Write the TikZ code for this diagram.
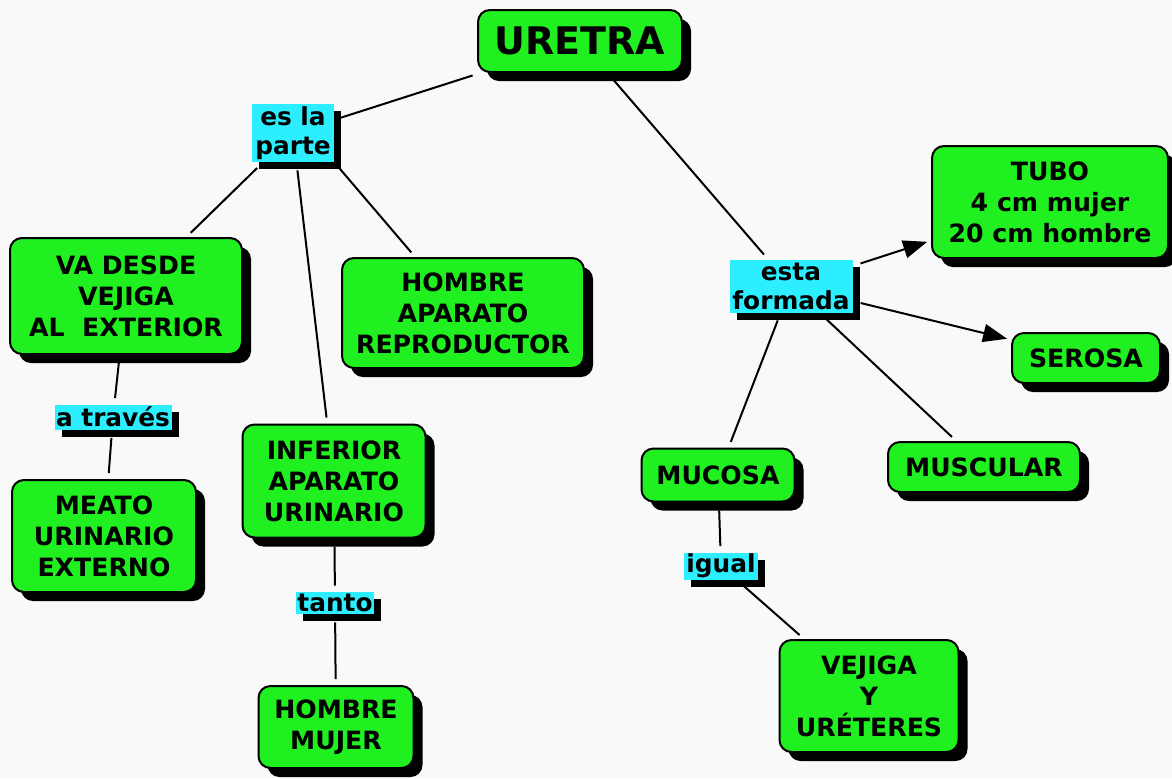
\documentclass[tikz,border=0pt]{standalone}
\usepackage{fontspec}
\setmainfont{DejaVu Sans}
\usetikzlibrary{arrows.meta,shadows}

\definecolor{conceptgreen}{RGB}{32,240,32}
\definecolor{linkcyan}{RGB}{44,238,255}
\definecolor{paper}{RGB}{249,249,249}

\tikzset{
  concept/.style={draw=black, line width=1pt, fill=conceptgreen, rounded corners=6pt,
    align=center, inner sep=1pt, font=\bfseries\fontsize{12.6}{15.5}\selectfont,
    drop shadow={shadow xshift=4.5pt, shadow yshift=-4.5pt, fill=black, opacity=1}},
  linkword/.style={fill=linkcyan, inner sep=0.5pt, align=center,
    font=\bfseries\fontsize{12.4}{14.5}\selectfont,
    drop shadow={shadow xshift=3.5pt, shadow yshift=-3.5pt, fill=black, opacity=1}},
  joint/.style={line width=1pt, shorten <=4pt, shorten >=3pt},
  pointer/.style={joint, -{Triangle[length=12pt,width=9pt]}, shorten >=2pt}
}

\begin{document}
\begin{tikzpicture}[x=0.5pt,y=-0.5pt]
\fill[paper] (0,0) rectangle (1172,778);
\useasboundingbox (0,0) rectangle (1172,778);

% concepts
\node[concept, minimum width=102pt, minimum height=31pt,
  font=\bfseries\fontsize{19}{22}\selectfont] (uretra) at (580,41) {URETRA};
\node[concept, minimum width=116pt, minimum height=58pt] (desde) at (126,296) {VA DESDE\\VEJIGA\\AL\ \ EXTERIOR};
\node[concept, minimum width=121pt, minimum height=55pt] (repro) at (463,313) {HOMBRE\\APARATO\\REPRODUCTOR};
\node[concept, minimum width=92pt, minimum height=56pt] (meato) at (104,536) {MEATO\\URINARIO\\EXTERNO};
\node[concept, minimum width=91.5pt, minimum height=56.5pt] (inferior) at (334,481) {INFERIOR\\APARATO\\URINARIO};
\node[concept, minimum width=77.5pt, minimum height=41pt] (sexos) at (336,727) {HOMBRE\\MUJER};
\node[concept, minimum width=118pt, minimum height=56pt] (tubo) at (1050,202) {TUBO\\4 cm mujer\\20 cm hombre};
\node[concept, minimum width=74pt, minimum height=25pt] (serosa) at (1086,358) {SEROSA};
\node[concept, minimum width=96pt, minimum height=25pt] (muscular) at (984,467) {MUSCULAR};
\node[concept, minimum width=76.5pt, minimum height=26.5pt] (mucosa) at (718,475) {MUCOSA};
\node[concept, minimum width=89.5pt, minimum height=56pt] (vejiga) at (869,696) {VEJIGA\\Y\\URÉTERES};

% linking words
\node[linkword, minimum width=41pt, minimum height=29pt] (esla) at (293,133) {es la\\parte};
\node[linkword, minimum width=58.5pt, minimum height=12.5pt] (traves) at (113,417) {a través};
\node[linkword, minimum width=39pt, minimum height=11pt] (tanto) at (335,603) {tanto};
\node[linkword, minimum width=61.5pt, minimum height=26.5pt] (esta) at (791,286) {esta\\formada};
\node[linkword, minimum width=37pt, minimum height=13.5pt] (igual) at (721,566) {igual};

% connectors
\draw[joint] (uretra) -- (esla);
\draw[joint] (uretra) -- (esta);
\draw[joint] (esla) -- (desde);
\draw[joint] (esla) -- (inferior);
\draw[joint] (esla.south east) -- (repro);
\draw[joint] (desde) -- (traves);
\draw[joint] (traves) -- (meato);
\draw[joint] (inferior) -- (tanto);
\draw[joint] (tanto) -- (sexos);
\draw[pointer] (esta) -- (tubo);
\draw[pointer] (esta) -- (serosa);
\draw[joint] (esta) -- (mucosa);
\draw[joint] (esta) -- (muscular);
\draw[joint] (mucosa) -- (igual);
\draw[joint] (igual) -- (vejiga);
\end{tikzpicture}
\end{document}
